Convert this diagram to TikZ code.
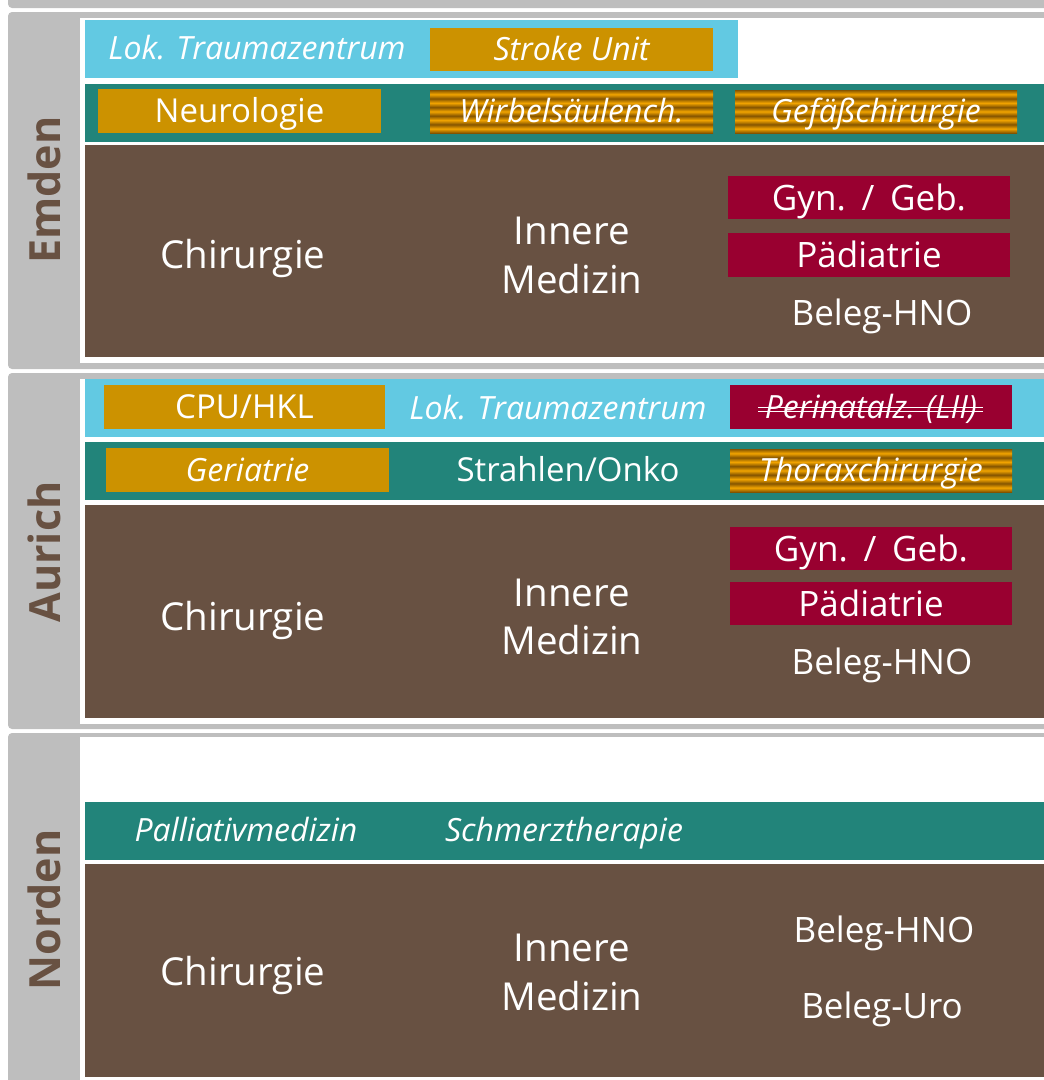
\documentclass[tikz,border=0pt]{standalone}
\usepackage{fontspec}
\setmainfont{Open Sans}
\usetikzlibrary{calc}
\definecolor{framegray}{HTML}{BEBEBE}
\definecolor{lblue}{HTML}{62C9E2}
\definecolor{tealband}{HTML}{22847A}
\definecolor{brownbg}{HTML}{685142}
\definecolor{ochre}{HTML}{CC9200}
\definecolor{crim}{HTML}{990030}
\definecolor{stripeL}{HTML}{F2A400}
\definecolor{stripeD}{HTML}{845400}
\pgfdeclareverticalshading{stripes}{100bp}{%
 color(0bp)=(stripeD); color(25bp)=(stripeD);
 color(30bp)=(stripeL); color(35bp)=(stripeD);
 color(40bp)=(stripeL); color(45bp)=(stripeD);
 color(50bp)=(stripeL); color(55bp)=(stripeD);
 color(60bp)=(stripeL); color(65bp)=(stripeD);
 color(70bp)=(stripeL); color(75bp)=(stripeD);
 color(100bp)=(stripeD)}
\tikzset{
 txt/.style={inner sep=0pt, text=white, align=center},
 rowf/.style={font=\fontsize{33}{38}\selectfont, text height=29.6pt, text depth=6pt},
 rowi/.style={font=\fontsize{32}{38}\itshape\selectfont, text height=28.8pt, text depth=6pt},
 bigf/.style={font=\fontsize{38.5}{48}\selectfont, text height=33.5pt, text depth=6pt},
 midf/.style={font=\fontsize{35}{40}\selectfont, text height=31pt, text depth=6pt},
 obox/.style={txt, fill=ochre, minimum width=283pt, minimum height=43pt},
 rbox/.style={txt, fill=crim, minimum width=282pt, minimum height=43pt},
 sbox/.style={txt, shade, shading=stripes, minimum width=283pt, minimum height=43pt},
 citylabel/.style={inner sep=0pt, text=brownbg, rotate=90, font=\fontsize{43}{44}\bfseries\selectfont}
}
\newcommand{\wsp}{\hspace{0.45em}}
\begin{document}
\begin{tikzpicture}[x=1pt,y=-1pt]
\useasboundingbox (0,0) rectangle (1044,1080);
\clip (0,0) rectangle (1044,1080);
% frames
\fill[framegray, rounded corners=4pt] (8,-30) rectangle (1070,8);
\fill[framegray, rounded corners=4pt] (8,12) rectangle (1070,369);
\fill[white] (80,18) rectangle (1070,363);
\fill[framegray, rounded corners=4pt] (8,373) rectangle (1070,729);
\fill[white] (80,379) rectangle (1070,724);
\fill[framegray, rounded corners=4pt] (8,733) rectangle (1070,1110);
\fill[white] (80,737) rectangle (1070,1110);
% Emden bands
\fill[lblue] (85,20) rectangle (738,78);
\fill[tealband] (85,84) rectangle (1044,142);
\fill[brownbg] (85,145) rectangle (1044,357);
% Aurich bands
\fill[lblue] (85,379) rectangle (1044,437);
\fill[tealband] (85,442) rectangle (1044,500);
\fill[brownbg] (85,505) rectangle (1044,718);
% Norden bands
\fill[tealband] (85,802) rectangle (1044,860);
\fill[brownbg] (85,864) rectangle (1044,1077);

% city labels
\node[citylabel] (emden) at (44,190) {Emden};
\node[citylabel] (aurich) at (44,552) {Aurich};
\node[citylabel] (norden) at (44,910) {Norden};

% Emden
\node[txt, rowi] (e-trauma) at (257,48) {Lok. Traumazentrum};
\node[obox, rowi] (e-stroke) at (571.5,49.5) {Stroke Unit};
\node[obox, rowf, minimum height=44pt] (e-neuro) at (239.5,111) {Neurologie};
\node[sbox, rowi] (e-wirbel) at (571.5,111.5) {Wirbelsäulench.};
\node[sbox, rowi, minimum width=282pt] (e-gefaess) at (876,111.5) {Gefäßchirurgie};
\node[txt, bigf] (e-chir) at (243,255) {Chirurgie};
\node[txt, bigf] (e-inn1) at (572,231) {Innere};
\node[txt, bigf] (e-inn2) at (572,280) {Medizin};
\node[rbox, midf] (e-gyn) at (869,197.5) {Gyn.\wsp/\wsp Geb.};
\node[rbox, midf, minimum height=44pt] (e-paed) at (869,255) {Pädiatrie};
\node[txt, midf] (e-hno) at (882,313) {Beleg-HNO};

% Aurich
\node[obox, rowf, minimum width=281pt, minimum height=44pt] (a-cpu) at (244.5,407) {CPU/HKL};
\node[txt, rowi] (a-trauma) at (558,408) {Lok. Traumazentrum};
\node[rbox, rowi, minimum height=44pt] (a-peri) at (871,407) {Perinatalz. (LII)};
\draw[white, line width=1.3pt] ($(a-peri.center)+(-113,0.5)$) -- ($(a-peri.center)+(112,0.5)$);
\draw[white, line width=1.3pt] ($(a-peri.center)+(-113,4.5)$) -- ($(a-peri.center)+(112,4.5)$);
\node[obox, rowi, minimum height=44pt] (a-geri) at (247.5,470) {Geriatrie};
\node[txt, rowf] (a-strahl) at (568,470) {Strahlen/Onko};
\node[sbox, rowi, minimum width=282pt] (a-thorax) at (871,470.5) {Thoraxchirurgie};
\node[txt, bigf] (a-chir) at (243,617) {Chirurgie};
\node[txt, bigf] (a-inn1) at (572,593) {Innere};
\node[txt, bigf] (a-inn2) at (572,641) {Medizin};
\node[rbox, midf] (a-gyn) at (871,548.5) {Gyn.\wsp/\wsp Geb.};
\node[rbox, midf] (a-paed) at (871,603.5) {Pädiatrie};
\node[txt, midf] (a-hno) at (882,662) {Beleg-HNO};

% Norden
\node[txt, rowi] (n-pall) at (246,830) {Palliativmedizin};
\node[txt, rowi] (n-schmerz) at (564,830) {Schmerztherapie};
\node[txt, bigf] (n-chir) at (243,972) {Chirurgie};
\node[txt, bigf] (n-inn1) at (572,948) {Innere};
\node[txt, bigf] (n-inn2) at (572,997) {Medizin};
\node[txt, midf] (n-hno) at (884,930) {Beleg-HNO};
\node[txt, midf] (n-uro) at (882,1006) {Beleg-Uro};
\end{tikzpicture}
\end{document}
